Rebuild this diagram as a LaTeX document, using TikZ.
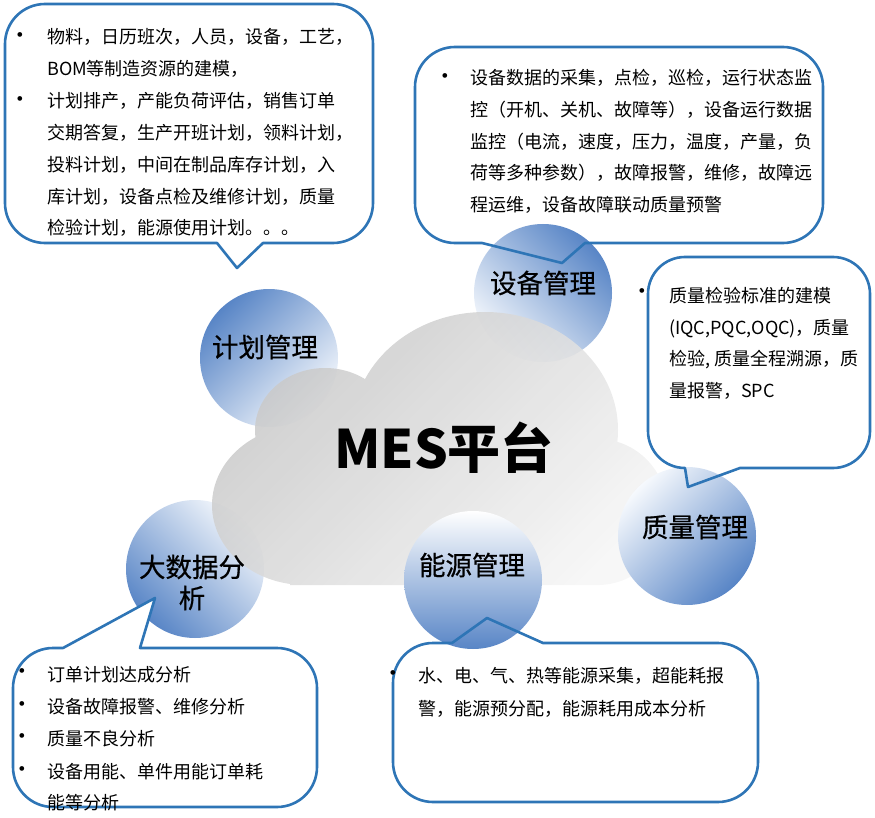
\documentclass[tikz,border=0pt]{standalone}
\usepackage{fontspec}
\newfontfamily\cjk{Noto Sans CJK SC}
\newfontfamily\cjkheavy{Noto Sans CJK SC}[FakeBold=0.6]
\usetikzlibrary{shadows}
\definecolor{bordc}{RGB}{46,117,182}
\definecolor{cdark}{RGB}{88,133,198}
\definecolor{clight}{RGB}{246,249,253}
\definecolor{cmid}{RGB}{200,214,236}
\definecolor{clouddark}{RGB}{198,198,198}
\definecolor{cloudlight}{RGB}{246,246,246}
\tikzset{
 bubble/.style={fill=white, drop shadow={shadow xshift=1.5pt, shadow yshift=-2.5pt, opacity=0.25, fill=black!60}},
 bubbleline/.style={draw=bordc, line width=2.6pt, line join=round},
 txt/.style={font=\cjk\fontsize{18}{22}\selectfont, anchor=base west, inner sep=0pt, text=black},
 bul/.style={font=\fontsize{21}{21}\selectfont, inner sep=0pt, anchor=center},
 lbl/.style={font=\cjkheavy\fontsize{26.5}{32}\selectfont, inner sep=0pt, anchor=center},
}
\begin{document}
\begin{tikzpicture}[x=1pt,y=-1pt]
\useasboundingbox (0,0) rectangle (875,818);
% ---- bubble paths
\path[save path=\pA] (45,4) -- (333,4) arc[start angle=-90,end angle=0,radius=40] -- (373,203) arc[start angle=0,end angle=90,radius=40] -- (263,243) -- (237,268) -- (217,243) -- (45,243) arc[start angle=90,end angle=180,radius=40] -- (5,44) arc[start angle=180,end angle=270,radius=40] -- cycle;
\path[save path=\pB] (455,47) -- (783,47) arc[start angle=-90,end angle=0,radius=40] -- (823,203) arc[start angle=0,end angle=90,radius=40] -- (585,243) -- (562,263) -- (482,243) -- (455,243) arc[start angle=90,end angle=180,radius=40] -- (415,87) arc[start angle=180,end angle=270,radius=40] -- cycle;
\path[save path=\pC] (685,257) -- (833,257) arc[start angle=-90,end angle=0,radius=37] -- (870,431) arc[start angle=0,end angle=90,radius=37] -- (740,468) -- (688,487) -- (685,468) arc[start angle=90,end angle=180,radius=37] -- (648,294) arc[start angle=180,end angle=270,radius=37] -- cycle;
\path[save path=\pD] (53,648) -- (63,648) -- (155,598) -- (140,648) -- (277,648) arc[start angle=-90,end angle=0,radius=40] -- (317,767) arc[start angle=0,end angle=90,radius=40] -- (53,807) arc[start angle=90,end angle=180,radius=40] -- (13,688) arc[start angle=180,end angle=270,radius=40] -- cycle;
\path[save path=\pE] (433,643) -- (452,643) -- (487,618) -- (543,643) -- (718,643) arc[start angle=-90,end angle=0,radius=40] -- (758,762) arc[start angle=0,end angle=90,radius=40] -- (433,802) arc[start angle=90,end angle=180,radius=40] -- (393,683) arc[start angle=180,end angle=270,radius=40] -- cycle;
% ---- upper bubble fills
\path[bubble, use path=\pA];
\path[bubble, use path=\pB];
% ---- circles under the cloud
\shade[top color=cdark, bottom color=clight, shading angle=45] (269,358) circle[radius=69];
\shade[top color=cdark, bottom color=clight, shading angle=-45] (543,293) circle[radius=69];
\shade[top color=clight, bottom color=cdark, shading angle=-45] (195,569) circle[radius=69];
% ---- cloud
\begin{scope}
\clip (305,505) ellipse[x radius=93, y radius=80]
      (325,430) ellipse[x radius=70, y radius=62]
      (485,430) ellipse[x radius=133, y radius=118]
      (598,512) ellipse[x radius=70, y radius=73]
      (290,470) -- (600,470) -- (600,585) -- (290,585) -- cycle;
\shade[top color=clouddark, bottom color=cloudlight, shading angle=45, opacity=0.88] (200,300) rectangle (680,600);
\end{scope}
% ---- lower bubble fills
\path[bubble, use path=\pC];
\path[bubble, use path=\pD];
\path[bubble, use path=\pE];
% ---- circles above the cloud
\shade[top color=clight, bottom color=cdark, shading angle=45] (687,536) circle[radius=69];
\shade[top color=white, middle color=cmid, bottom color=cdark] (473,580) circle[radius=69];
% ---- bubble borders
\path[bubbleline, use path=\pA];
\path[bubbleline, use path=\pB];
\path[bubbleline, use path=\pC];
\path[bubbleline, use path=\pD];
\path[bubbleline, use path=\pE];
% ---- labels
\node[font=\cjk\bfseries\fontsize{53}{62}\selectfont, inner sep=0pt] (mes) at (444,448) {MES平台};
\node[lbl] (l1) at (265,347) {计划管理};
\node[lbl] (l2) at (543,283) {设备管理};
\node[lbl] (l3) at (695,527) {质量管理};
\node[lbl] (l4) at (472,565) {能源管理};
\node[lbl] (l5a) at (192,567) {大数据分};
\node[lbl] (l5b) at (192,598) {析};
% ---- bubble A text
\node[bul] (bA1) at (20,37) {•};
\node[bul] (bA2) at (20,101) {•};
\node[txt] (tA1) at (47,44) {物料，日历班次，人员，设备，工艺，};
\node[txt] (tA2) at (47,75.5) {BOM等制造资源的建模，};
\node[txt] (tA3) at (47,107.5) {计划排产，产能负荷评估，销售订单};
\node[txt] (tA4) at (47,139.5) {交期答复，生产开班计划，领料计划，};
\node[txt] (tA5) at (47,171.5) {投料计划，中间在制品库存计划，入};
\node[txt] (tA6) at (47,203.5) {库计划，设备点检及维修计划，质量};
\node[txt] (tA7) at (47,235) {检验计划，能源使用计划。。。};
% ---- bubble B text
\node[bul] (bB1) at (445,78) {•};
\node[txt] (tB1) at (470,85) {设备数据的采集，点检，巡检，运行状态监};
\node[txt] (tB2) at (470,117) {控（开机、关机、故障等），设备运行数据};
\node[txt] (tB3) at (470,149) {监控（电流，速度，压力，温度，产量，负};
\node[txt] (tB4) at (470,180) {荷等多种参数），故障报警，维修，故障远};
\node[txt] (tB5) at (470,212) {程运维，设备故障联动质量预警};
% ---- bubble C text
\node[bul] (bC1) at (642,293) {•};
\node[txt] (tC1) at (669,302) {质量检验标准的建模};
\node[txt] (tC2) at (669,334) {(IQC,PQC,OQC)，质量};
\node[txt] (tC3) at (669,365) {检验, 质量全程溯源，质};
\node[txt] (tC4) at (669,397) {量报警，SPC};
% ---- bubble D text
\node[bul] (bD1) at (22,673) {•};
\node[bul] (bD2) at (22,706) {•};
\node[bul] (bD3) at (22,738) {•};
\node[bul] (bD4) at (22,771) {•};
\node[txt] (tD1) at (47,681) {订单计划达成分析};
\node[txt] (tD2) at (47,713) {设备故障报警、维修分析};
\node[txt] (tD3) at (47,745) {质量不良分析};
\node[txt] (tD4) at (47,778) {设备用能、单件用能订单耗};
\node[txt] (tD5) at (47,809) {能等分析};
% ---- bubble E text
\node[bul] (bE1) at (393,675) {•};
\node[txt] (tE1) at (418,682) {水、电、气、热等能源采集，超能耗报};
\node[txt] (tE2) at (418,715) {警，能源预分配，能源耗用成本分析};
\end{tikzpicture}
\end{document}
